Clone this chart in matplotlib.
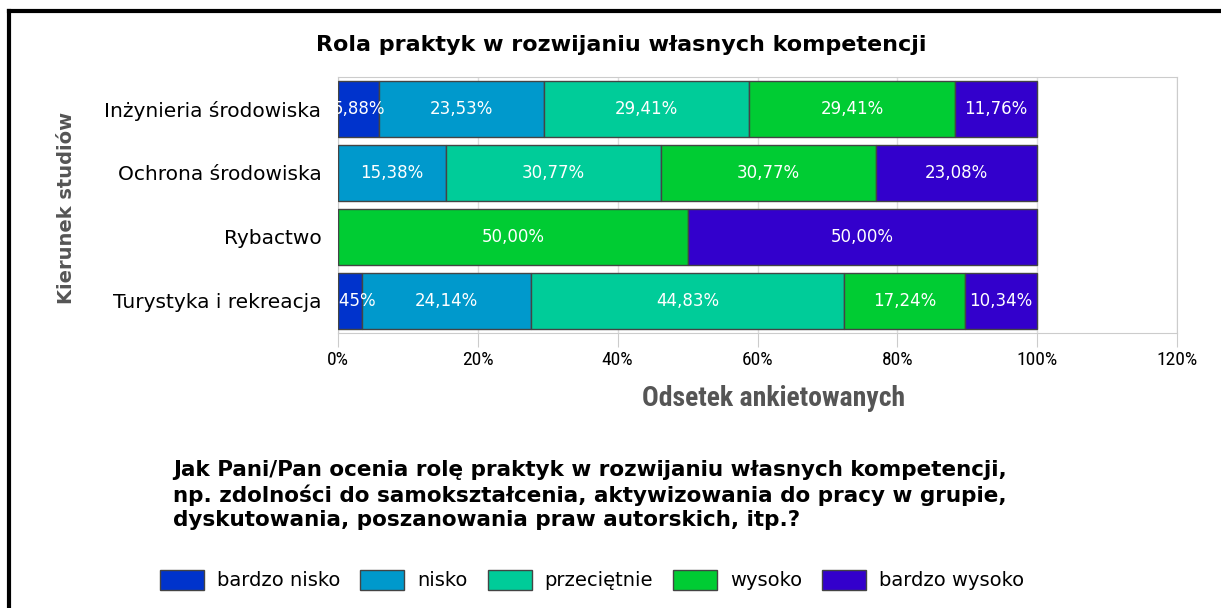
import matplotlib.pyplot as plt
from matplotlib import font_manager
from matplotlib.lines import Line2D
from matplotlib.patches import Rectangle

categories = ["Inżynieria środowiska", "Ochrona środowiska", "Rybactwo", "Turystyka i rekreacja"]
series_names = ["bardzo nisko", "nisko", "przeciętnie", "wysoko", "bardzo wysoko"]
bardzo_nisko = [5.88, 0.0, 0.0, 3.45]
nisko = [23.53, 15.38, 0.0, 24.14]
przecietnie = [29.41, 30.77, 0.0, 44.83]
wysoko = [29.41, 30.77, 50.00, 17.24]
bardzo_wysoko = [11.76, 23.08, 50.00, 10.34]
colors = ["#0033cc", "#0099cc", "#00cc99", "#00cc33", "#3300cc"]
xticks = [0, 20, 40, 60, 80, 100, 120]

title = "Rola praktyk w rozwijaniu własnych kompetencji"
question = ["Jak Pani/Pan ocenia rolę praktyk w rozwijaniu własnych kompetencji,",
            "np. zdolności do samokształcenia, aktywizowania do pracy w grupie,",
            "dyskutowania, poszanowania praw autorskich, itp.?"]

W, H = 1221, 608

# condensed face if available
names = {f.name for f in font_manager.fontManager.ttflist}
cond = "DejaVu Sans"
for cand in ["Liberation Sans Narrow", "Roboto Condensed", "Open Sans Condensed"]:
    if cand in names:
        cond = cand
        break
cond_stretch = "condensed"

fig = plt.figure(figsize=(W / 100, H / 100), dpi=100)
fig.patch.set_facecolor("white")

# axes in pixel coords: left 338, right 1177, top 77, bottom 333
ax = fig.add_axes([338 / W, 1 - 333 / H, (1177 - 338) / W, (333 - 77) / H])

series = [bardzo_nisko, nisko, przecietnie, wysoko, bardzo_wysoko]
ypos = list(range(len(categories)))[::-1]
left = [0.0] * len(categories)
for vals, col in zip(series, colors):
    bars = ax.barh(ypos, vals, left=left, height=0.89, color=col,
                   edgecolor="#444444", linewidth=1.0, zorder=3)
    for b, v, l in zip(bars, vals, left):
        if v > 0:
            ax.text(l + v / 2, b.get_y() + b.get_height() / 2,
                    ("%.2f%%" % v).replace(".", ","), ha="center", va="center",
                    color="white", fontsize=12, family="DejaVu Sans", zorder=4,
                    clip_on=True)
    left = [a + b for a, b in zip(left, vals)]

ax.set_xlim(0, 120)
ax.set_ylim(-0.5, len(categories) - 0.5)
ax.set_xticks(xticks)
ax.set_xticklabels(["%d%%" % t for t in xticks], fontsize=14, family=cond,
                   fontstretch=cond_stretch)
ax.set_yticks(ypos)
ax.set_yticklabels(categories, fontsize=14.5, family="DejaVu Sans")
ax.tick_params(axis="y", length=0, pad=12)
ax.tick_params(axis="x", length=10, color="#cccccc", pad=3)
ax.grid(axis="x", color="#dddddd", linewidth=1, zorder=0)
for s in ax.spines.values():
    s.set_color("#cccccc")

fig.text(774 / W, 1 - 398 / H, "Odsetek ankietowanych", fontsize=20, fontweight="bold",
         color="#555555", family=cond, fontstretch=cond_stretch, ha="center", va="center")
fig.text(66 / W, 1 - 208 / H, "Kierunek studiów", fontsize=14, fontweight="bold",
         color="#555555", family="DejaVu Sans", ha="center", va="center", rotation=90)
fig.text(621 / W, 1 - 45 / H, title, fontsize=16, fontweight="bold",
         family="DejaVu Sans", ha="center", va="center")

for i, line in enumerate(question):
    fig.text(173 / W, 1 - (470 + 25 * i) / H, line, fontsize=15.5, fontweight="bold",
             family="DejaVu Sans", va="center", ha="left")

# legend row
x = 160
fig.canvas.draw()
for name, col in zip(series_names, colors):
    fig.patches.append(Rectangle((x / W, 1 - 590 / H), 44 / W, 20 / H,
                                 transform=fig.transFigure, facecolor=col,
                                 edgecolor="#444444", linewidth=1))
    t = fig.text((x + 57) / W, 1 - 580 / H, name, fontsize=14,
                 family="DejaVu Sans", va="center", ha="left")
    bb = t.get_window_extent(renderer=fig.canvas.get_renderer())
    x = bb.x1 + 20

# outer frame (top and left only)
fig.lines.append(Line2D([9 / W, 9 / W], [0, 1 - 11 / H], transform=fig.transFigure,
                        color="black", linewidth=3))
fig.lines.append(Line2D([9 / W, 1], [1 - 11 / H, 1 - 11 / H], transform=fig.transFigure,
                        color="black", linewidth=3))

fig.savefig("out.png", dpi=100)
